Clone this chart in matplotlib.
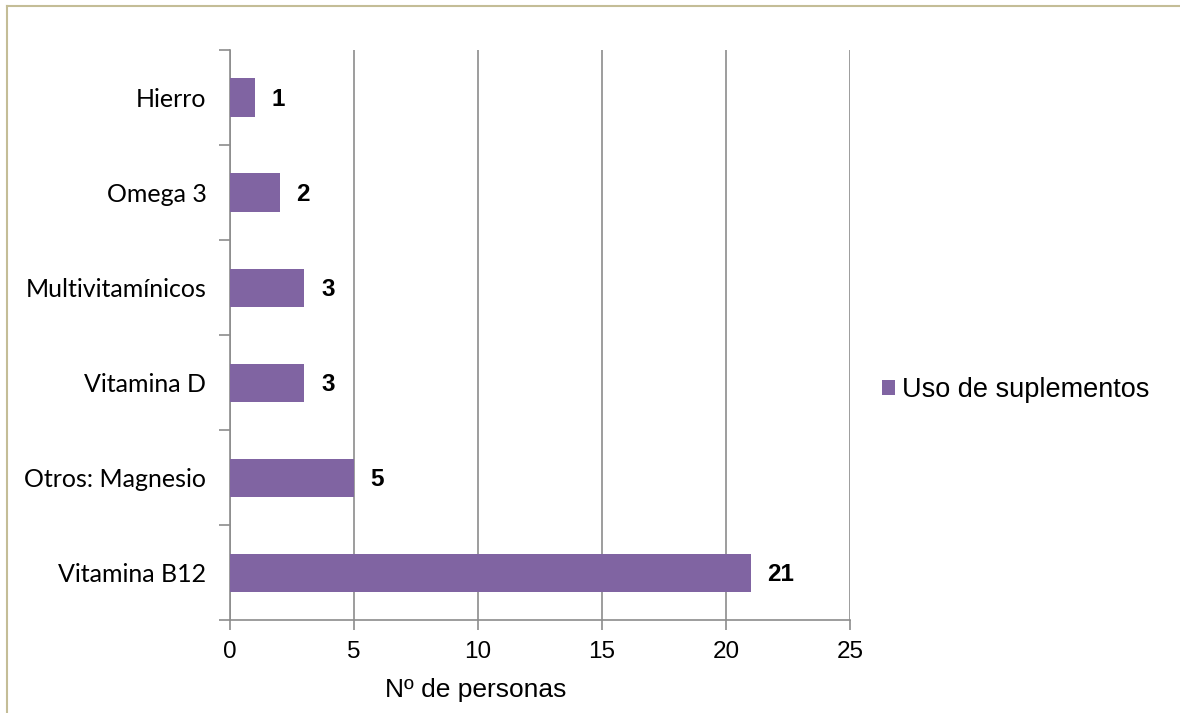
import matplotlib.pyplot as plt
from matplotlib.patches import Patch
from matplotlib.lines import Line2D

# Suplementos usados (de abajo hacia arriba)
categorias = ['Vitamina B12', 'Otros: Magnesio', 'Vitamina D', 'Multivitamínicos', 'Omega 3', 'Hierro']
personas = [21, 5, 3, 3, 2, 1]
ticks_x = [0, 5, 10, 15, 20, 25]
serie = 'Uso de suplementos'

morado = '#8064A2'
gris = '#8C8C8C'

fig = plt.figure(figsize=(11.8, 7.13), dpi=100)
ax = fig.add_axes([230 / 1180, 1 - 620 / 713, 620 / 1180, 570 / 713])

ypos = list(range(len(categorias)))
ax.barh(ypos, personas, height=0.4, color=morado, zorder=3)

# etiquetas de valor a la derecha de cada barra
for y, v in zip(ypos, personas):
    ax.annotate(str(v), xy=(v, y), xytext=(12, -1.5), textcoords='offset points',
                ha='left', va='center', fontsize=17.5, fontweight='bold',
                family='Liberation Sans', color='black')

ax.set_xlim(0, 25)
ax.set_ylim(-0.5, len(categorias) - 0.5)
ax.set_xticks(ticks_x)
ax.set_xticklabels([str(t) for t in ticks_x], family='Liberation Sans', fontsize=17.5)

# ticks del eje y entre categorías, etiquetas centradas en cada barra
ax.set_yticks([y + 0.5 for y in range(-1, len(categorias))])
ax.set_yticklabels([])
ax.set_yticks(ypos, minor=True)
ax.set_yticklabels(categorias, minor=True, family='Lato', fontsize=18)
ax.tick_params(axis='y', which='minor', length=0, pad=17)
ax.tick_params(axis='y', which='major', length=8, width=1.2, color=gris, direction='out')
ax.tick_params(axis='x', length=7, width=1.2, color=gris, direction='out', pad=8)

ax.grid(axis='x', color=gris, linewidth=1.2, zorder=0)
for s in ['top', 'right']:
    ax.spines[s].set_visible(False)
for s in ['left', 'bottom']:
    ax.spines[s].set_color(gris)
    ax.spines[s].set_linewidth(1.2)

fig.text(476 / 1180, 1 - 690 / 713, 'Nº de personas', ha='center', va='center',
         family='Liberation Sans', fontsize=19)

fig.legend(handles=[Patch(facecolor=morado, edgecolor='none', label=serie)],
           loc='center left', bbox_to_anchor=(863 / 1180, 1 - 390 / 713),
           frameon=False, prop={'family': 'Liberation Sans', 'size': 19.5},
           handlelength=0.5, handleheight=0.5, handletextpad=0.25, borderpad=0.2)

# marco del gráfico
fig.add_artist(Line2D([7 / 1180, 1], [1 - 6 / 713, 1 - 6 / 713], color='#C4BD97', linewidth=1.5))
fig.add_artist(Line2D([7 / 1180, 7 / 1180], [0, 1 - 6 / 713], color='#C4BD97', linewidth=1.5))

fig.savefig('out.png', dpi=100)
